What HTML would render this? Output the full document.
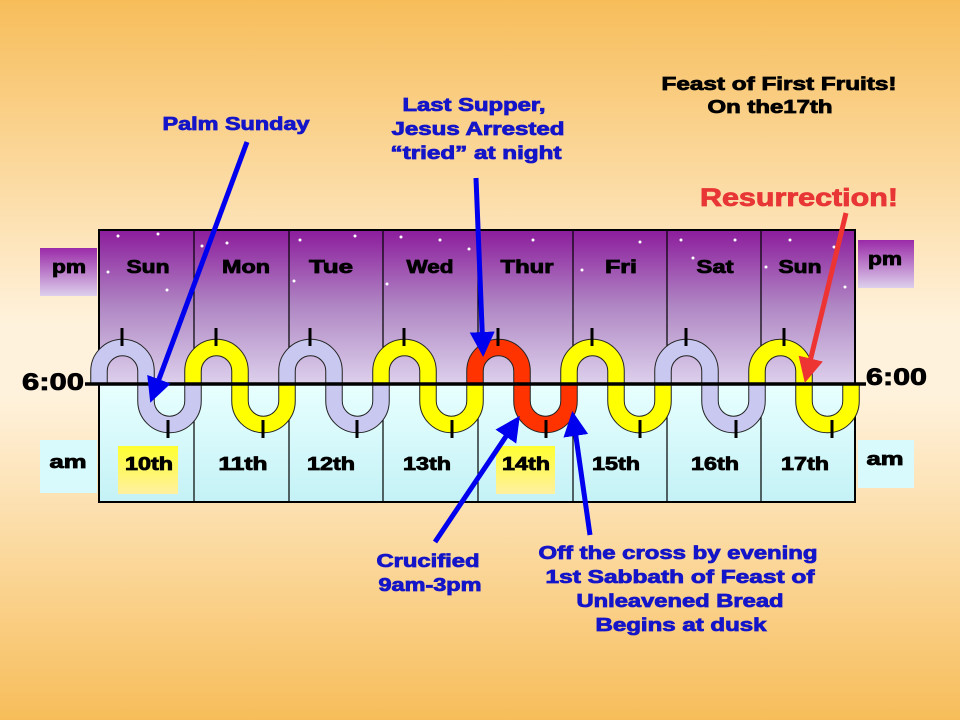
<!DOCTYPE html>
<html><head><style>
body{margin:0;}
svg text{font-family:"Liberation Sans",sans-serif;font-weight:bold;}
</style></head><body>
<svg width="960" height="720" viewBox="0 0 960 720" xmlns="http://www.w3.org/2000/svg">
<defs>
<linearGradient id="bg" x1="0" y1="0" x2="0" y2="1">
<stop offset="0" stop-color="#f7bd5a"/><stop offset="0.45" stop-color="#fff2dc"/><stop offset="0.55" stop-color="#fff2dc"/><stop offset="1" stop-color="#f7bd5a"/></linearGradient>
<linearGradient id="pm" x1="0" y1="0" x2="0" y2="1">
<stop offset="0" stop-color="#8c1c9c"/><stop offset="0.5" stop-color="#b088c4"/><stop offset="1" stop-color="#ddd0ec"/></linearGradient>
<linearGradient id="am" x1="0" y1="0" x2="0" y2="1">
<stop offset="0" stop-color="#e8ffff"/><stop offset="1" stop-color="#c4f2f6"/></linearGradient>
<linearGradient id="pmb" x1="0" y1="0" x2="0" y2="1">
<stop offset="0" stop-color="#9a2aa8"/><stop offset="1" stop-color="#ddd0ec"/></linearGradient>
<linearGradient id="yb" x1="0" y1="0" x2="0" y2="1">
<stop offset="0" stop-color="#ffff30"/><stop offset="1" stop-color="#fff0a0"/></linearGradient>
<marker id="ab" viewBox="0 0 10 10" refX="8" refY="5" markerWidth="5" markerHeight="5" orient="auto"><path d="M0,0L10,5L0,10z" fill="#0000ee"/></marker>
<marker id="ar" viewBox="0 0 10 10" refX="8" refY="5" markerWidth="5" markerHeight="5" orient="auto"><path d="M0,0L10,5L0,10z" fill="#ee3333"/></marker>
</defs>
<rect width="960" height="720" fill="url(#bg)"/>
<rect x="40" y="248" width="57" height="48" fill="url(#pmb)"/>
<rect x="40" y="440" width="57" height="53" fill="#d8fafc"/>
<rect x="858" y="240" width="56" height="48" fill="url(#pmb)"/>
<rect x="858" y="440" width="56" height="48" fill="#d8fafc"/>
<g font-size="18" stroke="#000" stroke-width="0.8" text-anchor="middle" lengthAdjust="spacingAndGlyphs">
<text x="69" y="273" textLength="34" lengthAdjust="spacingAndGlyphs">pm</text>
<text x="68" y="468" textLength="37" lengthAdjust="spacingAndGlyphs">am</text>
<text x="885" y="265" textLength="34" lengthAdjust="spacingAndGlyphs">pm</text>
<text x="885" y="465" textLength="37" lengthAdjust="spacingAndGlyphs">am</text>
</g>
<rect x="99" y="230" width="756" height="154" fill="url(#pm)"/>
<rect x="99" y="384" width="756" height="118" fill="url(#am)"/>
<g fill="#fff">
<circle cx="118" cy="236" r="1.5"/><circle cx="158" cy="234" r="1.5"/><circle cx="108" cy="272" r="1.5"/><circle cx="167" cy="290" r="1.5"/>
<circle cx="202" cy="246" r="1.5"/><circle cx="227" cy="243" r="1.5"/><circle cx="300" cy="240" r="1.5"/><circle cx="355" cy="236" r="1.5"/><circle cx="294" cy="281" r="1.5"/>
<circle cx="401" cy="237" r="1.5"/><circle cx="440" cy="240" r="1.5"/><circle cx="469" cy="249" r="1.5"/><circle cx="387" cy="284" r="1.5"/>
<circle cx="533" cy="240" r="1.5"/><circle cx="582" cy="270" r="1.5"/><circle cx="640" cy="242" r="1.5"/><circle cx="681" cy="240" r="1.5"/><circle cx="693" cy="258" r="1.5"/>
<circle cx="735" cy="240" r="1.5"/><circle cx="790" cy="240" r="1.5"/><circle cx="766" cy="267" r="1.5"/><circle cx="834" cy="247" r="1.5"/><circle cx="845" cy="287" r="1.5"/>
</g>
<rect x="118" y="446" width="60" height="48" fill="url(#yb)"/>
<rect x="496" y="446" width="59" height="48" fill="url(#yb)"/>
<rect x="99" y="230" width="756" height="272" fill="none" stroke="#000" stroke-width="2"/>
<g stroke="#000" stroke-width="1.2">
<line x1="194" y1="230" x2="194" y2="502"/><line x1="289" y1="230" x2="289" y2="502"/><line x1="383" y1="230" x2="383" y2="502"/><line x1="478" y1="230" x2="478" y2="502"/><line x1="573" y1="230" x2="573" y2="502"/><line x1="667" y1="230" x2="667" y2="502"/><line x1="761" y1="230" x2="761" y2="502"/>
</g>
<g font-size="18" text-anchor="middle" stroke="#000" stroke-width="0.8">
<text x="148" y="273" textLength="43" lengthAdjust="spacingAndGlyphs">Sun</text><text x="246" y="273" textLength="48" lengthAdjust="spacingAndGlyphs">Mon</text><text x="331" y="273" textLength="44" lengthAdjust="spacingAndGlyphs">Tue</text><text x="430" y="273" textLength="47" lengthAdjust="spacingAndGlyphs">Wed</text><text x="527" y="273" textLength="53" lengthAdjust="spacingAndGlyphs">Thur</text><text x="621" y="273" textLength="32" lengthAdjust="spacingAndGlyphs">Fri</text><text x="715" y="273" textLength="37" lengthAdjust="spacingAndGlyphs">Sat</text><text x="800" y="273" textLength="43" lengthAdjust="spacingAndGlyphs">Sun</text>
<text x="149" y="470" textLength="48" lengthAdjust="spacingAndGlyphs">10th</text><text x="243" y="470" textLength="49" lengthAdjust="spacingAndGlyphs">11th</text><text x="331" y="470" textLength="48" lengthAdjust="spacingAndGlyphs">12th</text><text x="427" y="470" textLength="48" lengthAdjust="spacingAndGlyphs">13th</text><text x="526" y="470" textLength="48" lengthAdjust="spacingAndGlyphs">14th</text><text x="616" y="470" textLength="48" lengthAdjust="spacingAndGlyphs">15th</text><text x="715" y="470" textLength="48" lengthAdjust="spacingAndGlyphs">16th</text><text x="805" y="470" textLength="48" lengthAdjust="spacingAndGlyphs">17th</text>
</g>
<g fill="none">
<g stroke="#222" stroke-width="17.5">
<path d="M99,384 L99,371 A23.5,23.5 0 0 1 146,371 L146,401 A23.5,23.5 0 0 0 193,401 L193,371 A23.5,23.5 0 0 1 240,371 L240,401 A23.5,23.5 0 0 0 287,401 L287,371 A23.5,23.5 0 0 1 334,371 L334,401 A23.5,23.5 0 0 0 381,401 L381,371 A23.5,23.5 0 0 1 428,371 L428,401 A23.5,23.5 0 0 0 475,401 L475,371 A23.5,23.5 0 0 1 522,371 L522,401 A23.5,23.5 0 0 0 569,401 L569,371 A23.5,23.5 0 0 1 616,371 L616,401 A23.5,23.5 0 0 0 663,401 L663,371 A23.5,23.5 0 0 1 710,371 L710,401 A23.5,23.5 0 0 0 757,401 L757,371 A23.5,23.5 0 0 1 804,371 L804,401 A23.5,23.5 0 0 0 851,401 L851,384"/>
</g>
<g stroke-width="15.5">
<path stroke="#c8c8f0" d="M99,384 L99,371 A23.5,23.5 0 0 1 146,371 L146,401 A23.5,23.5 0 0 0 193,401 L193,384"/>
<path stroke="#ffff00" d="M193,384 L193,371 A23.5,23.5 0 0 1 240,371 L240,401 A23.5,23.5 0 0 0 287,401 L287,384"/>
<path stroke="#c8c8f0" d="M287,384 L287,371 A23.5,23.5 0 0 1 334,371 L334,401 A23.5,23.5 0 0 0 381,401 L381,384"/>
<path stroke="#ffff00" d="M381,384 L381,371 A23.5,23.5 0 0 1 428,371 L428,401 A23.5,23.5 0 0 0 475,401 L475,384"/>
<path stroke="#ff3300" d="M475,384 L475,371 A23.5,23.5 0 0 1 522,371 L522,401 A23.5,23.5 0 0 0 569,401 L569,384"/>
<path stroke="#ffff00" d="M569,384 L569,371 A23.5,23.5 0 0 1 616,371 L616,401 A23.5,23.5 0 0 0 663,401 L663,384"/>
<path stroke="#c8c8f0" d="M663,384 L663,371 A23.5,23.5 0 0 1 710,371 L710,401 A23.5,23.5 0 0 0 757,401 L757,384"/>
<path stroke="#ffff00" d="M757,384 L757,371 A23.5,23.5 0 0 1 804,371 L804,401 A23.5,23.5 0 0 0 851,401 L851,384"/>
</g>
</g>
<line x1="85" y1="384" x2="866" y2="384" stroke="#000" stroke-width="3.5"/>
<g stroke="#000" stroke-width="3">
<line x1="122" y1="328" x2="122" y2="346"/><line x1="168" y1="420" x2="168" y2="438"/>
<line x1="216" y1="328" x2="216" y2="346"/><line x1="263" y1="420" x2="263" y2="438"/>
<line x1="310" y1="328" x2="310" y2="346"/><line x1="357" y1="420" x2="357" y2="438"/>
<line x1="404" y1="328" x2="404" y2="346"/><line x1="452" y1="420" x2="452" y2="438"/>
<line x1="498" y1="328" x2="498" y2="346"/><line x1="546" y1="420" x2="546" y2="438"/>
<line x1="592" y1="328" x2="592" y2="346"/><line x1="640" y1="420" x2="640" y2="438"/>
<line x1="686" y1="328" x2="686" y2="346"/><line x1="736" y1="420" x2="736" y2="438"/>
<line x1="784" y1="328" x2="784" y2="346"/><line x1="832" y1="420" x2="832" y2="438"/>
</g>
<g stroke="#000" stroke-width="0.8">
<text x="22" y="390" font-size="24" textLength="62" lengthAdjust="spacingAndGlyphs">6:00</text>
<text x="866" y="385" font-size="24" textLength="61" lengthAdjust="spacingAndGlyphs">6:00</text>
</g>
<g stroke="#0000ee" stroke-width="5" marker-end="url(#ab)">
<line x1="247" y1="142" x2="152" y2="398"/>
<line x1="476" y1="178" x2="483" y2="352"/>
<line x1="435" y1="542" x2="517" y2="420"/>
<line x1="590" y1="535" x2="573" y2="416"/>
</g>
<line x1="846" y1="213" x2="806" y2="378" stroke="#ee3333" stroke-width="5" marker-end="url(#ar)"/>
<g font-size="18" fill="#1414c8" stroke="#1414c8" stroke-width="0.8" text-anchor="middle">
<text x="236" y="130" textLength="147" lengthAdjust="spacingAndGlyphs">Palm Sunday</text>
<text x="474" y="111" textLength="143" lengthAdjust="spacingAndGlyphs">Last Supper,</text>
<text x="478" y="135" textLength="173" lengthAdjust="spacingAndGlyphs">Jesus Arrested</text>
<text x="476" y="159" textLength="171" lengthAdjust="spacingAndGlyphs">“tried” at night</text>
<text x="428" y="567" textLength="103" lengthAdjust="spacingAndGlyphs">Crucified</text>
<text x="430" y="591" textLength="103" lengthAdjust="spacingAndGlyphs">9am-3pm</text>
<text x="678" y="559" textLength="279" lengthAdjust="spacingAndGlyphs">Off the cross by evening</text>
<text x="680" y="583" textLength="269" lengthAdjust="spacingAndGlyphs">1st Sabbath of Feast of</text>
<text x="680" y="607" textLength="207" lengthAdjust="spacingAndGlyphs">Unleavened Bread</text>
<text x="681" y="631" textLength="171" lengthAdjust="spacingAndGlyphs">Begins at dusk</text>
</g>
<g font-size="18" fill="#000" stroke="#000" stroke-width="0.8" text-anchor="middle">
<text x="779" y="90" textLength="235" lengthAdjust="spacingAndGlyphs">Feast of First Fruits!</text>
<text x="770" y="113" textLength="125" lengthAdjust="spacingAndGlyphs">On the17th</text>
</g>
<text x="799" y="206" font-size="25" fill="#e83535" stroke="#e83535" stroke-width="0.8" text-anchor="middle" textLength="198" lengthAdjust="spacingAndGlyphs">Resurrection!</text>
</svg>
</body></html>
